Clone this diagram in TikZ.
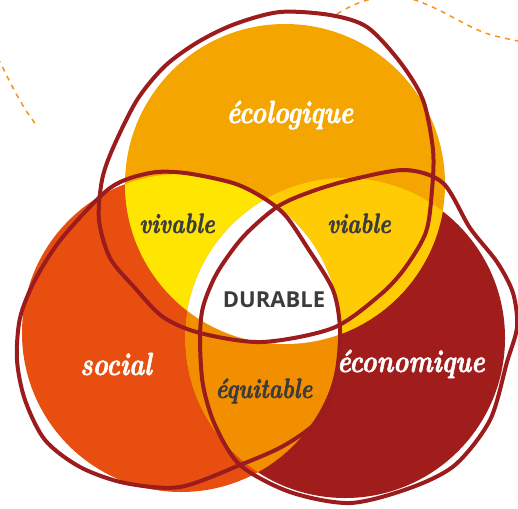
\documentclass[tikz,border=0pt]{standalone}
\usepackage{fontspec}
\usetikzlibrary{decorations.pathmorphing}
\newfontfamily\scriptlm{lmroman10-bolditalic.otf}[FakeStretch=0.8, FakeBold=1.6]
\newfontfamily\durfont{Open Sans}
\definecolor{ecol}{HTML}{F5A500}
\definecolor{soc}{HTML}{E84E0F}
\definecolor{eco}{HTML}{A01D1C}
\definecolor{vivc}{HTML}{FFE600}
\definecolor{viac}{HTML}{FFCB05}
\definecolor{equc}{HTML}{F18F00}
\definecolor{sk}{HTML}{9C1C1D}
\definecolor{dark}{HTML}{3C3C3B}
\definecolor{dashc}{HTML}{F7941D}
\tikzset{
  sketch/.style={draw=sk, line width=4pt, line join=round},
  skin/.style={draw=sk, line width=2pt, line join=round},
  fuzz/.style={draw=sk, line width=0.8pt, line join=round, decorate,
    decoration={random steps, segment length=1.5pt, amplitude=1.2pt}},
  wlab/.style={anchor=base, inner sep=0pt, text=white, font=\scriptlm\fontsize{32}{32}\selectfont},
  dlab/.style={anchor=base, inner sep=0pt, text=dark, font=\scriptlm\fontsize{28}{28}\selectfont},
  durlab/.style={anchor=center, inner sep=0pt, text=dark, font=\durfont\bfseries\fontsize{22}{22}\selectfont},
  wave/.style={draw=dashc, line width=1.5pt, dash pattern=on 5pt off 5pt}
}
\begin{document}
\begin{tikzpicture}[x=1pt, y=-1pt]
\pgfmathsetseed{7}
\useasboundingbox (0,0) rectangle (518,508);
% dashed waves
\draw[wave] (337,14) .. controls (362,-2) and (390,-8) .. (415,0) .. controls (445,10) and (470,30) .. (495,36) .. controls (505,38) and (515,41) .. (525,42);
\draw[wave] (-2,58) .. controls (10,82) and (22,108) .. (38,127);
% filled circles
\fill[soc] (181,333) circle[radius=159];
\fill[eco] (345,338) circle[radius=160];
\fill[ecol] (285,184) circle[radius=160];
\begin{scope}
  \clip (285,184) circle[radius=160];
  \fill[vivc] (181,333) circle[radius=159];
  \fill[viac] (345,338) circle[radius=160];
\end{scope}
\begin{scope}
  \clip (181,333) circle[radius=159];
  \fill[equc] (345,338) circle[radius=160];
\end{scope}
\begin{scope}
  \clip (285,184) circle[radius=160];
  \clip (181,333) circle[radius=159];
  \fill[white] (345,338) circle[radius=160];
\end{scope}
% sketched circles
\def\topsk{(280,12) (330,15) (367,27) (400,62) (423,100) (433,150) (432,190) (426,232) (405,268) (380,295) (333,328) (262,342) (200,333) (163,317) (135,288) (110,258) (99,220) (102,180) (113,148) (137,100) (165,66) (198,42) (235,24)}
\def\leftsk{(110,188) (150,173) (185,173) (233,183) (262,197) (285,215) (307,247) (333,290) (340,330) (336,375) (320,418) (285,445) (240,465) (180,487) (125,483) (80,467) (45,440) (25,400) (17,360) (20,318) (35,280) (62,238)}
\def\rightsk{(277,207) (310,192) (350,180) (405,170) (443,183) (470,228) (497,262) (513,293) (517,327) (507,362) (490,420) (455,465) (410,488) (350,503) (290,492) (240,465) (215,425) (203,385) (200,340) (203,307) (217,273) (243,237)}
\foreach \sk in {\topsk,\leftsk,\rightsk}{
  \draw[sketch] plot[smooth cycle] coordinates {\sk};
  \draw[skin] plot[smooth cycle] coordinates {\sk};
  \draw[fuzz] plot[smooth cycle] coordinates {\sk};
}
% labels
\node[wlab] (ecolab) at (290,123) {écologique};
\node[wlab] (soclab) at (116,375) {social};
\node[wlab] (ecolab2) at (411,372) {économique};
\node[dlab] (vivlab) at (177,233) {vivable};
\node[dlab] (vialab) at (359,233) {viable};
\node[dlab] (equlab) at (264,398) {équitable};
\node[durlab] (durlab) at (274,300) {DURABLE};
\end{tikzpicture}
\end{document}
